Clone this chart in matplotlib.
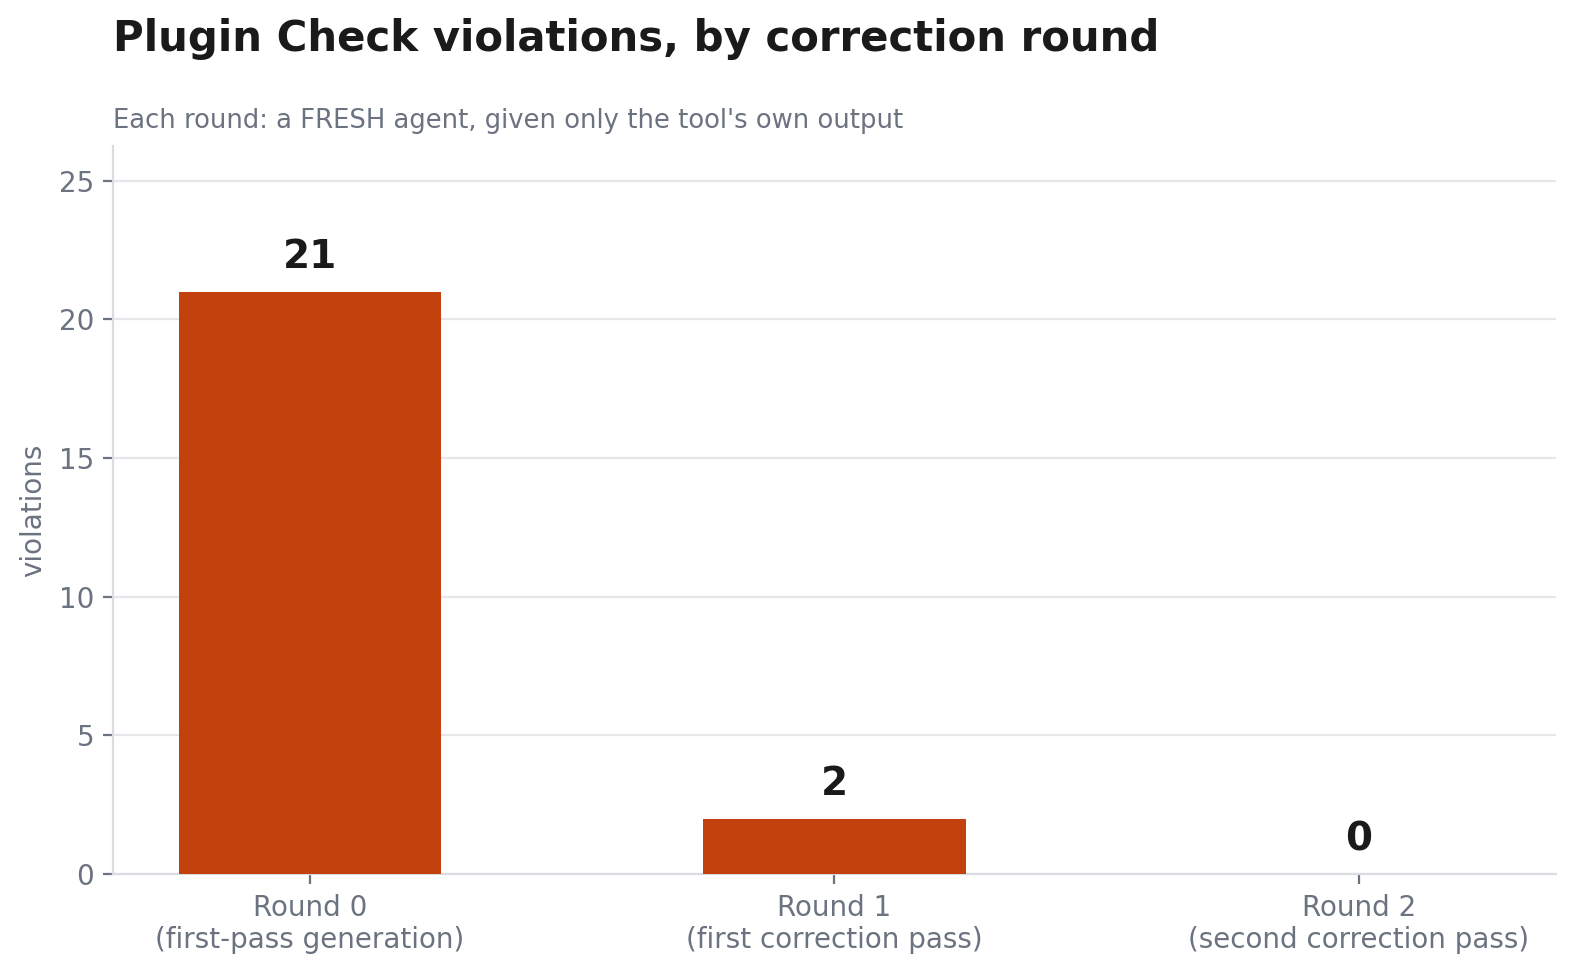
import matplotlib.pyplot as plt

rounds = ['Round 0\n(first-pass generation)', 'Round 1\n(first correction pass)', 'Round 2\n(second correction pass)']
violations = [21, 2, 0]

bar_color = '#c2410c'
muted = '#6b7280'
dark = '#1a1a1a'

fig, ax = plt.subplots(figsize=(7.88, 4.9), dpi=200)
plt.subplots_adjust(left=0.072, right=0.982 + 0.005, top=0.851, bottom=0.113 - 0.005)

x = list(range(len(rounds)))
ax.bar(x, violations, width=0.5, color=bar_color, zorder=3)
for xi, v in zip(x, violations):
    ax.text(xi, v + 0.55, str(v), ha='center', va='bottom', fontsize=14,
            fontweight='bold', color=dark)

ax.set_ylim(0, max(violations) * 1.25)
ax.set_yticks([0, 5, 10, 15, 20, 25])
ax.set_xticks(x, rounds)
ax.set_ylabel('violations', fontsize=10, color=muted)
ax.tick_params(colors=muted, labelsize=10)
ax.grid(axis='y', color='#e5e7eb', linewidth=0.8, zorder=0)
for s in ['top', 'right']:
    ax.spines[s].set_visible(False)
for s in ['left', 'bottom']:
    ax.spines[s].set_color('#d9dce1')

fig.text(0.072, 0.96, 'Plugin Check violations, by correction round', fontsize=15.1,
         fontweight='bold', color=dark, ha='left', va='center')
fig.text(0.072, 0.877, "Each round: a FRESH agent, given only the tool's own output",
         fontsize=9.3, color=muted, ha='left', va='center')

fig.savefig('out.png')
